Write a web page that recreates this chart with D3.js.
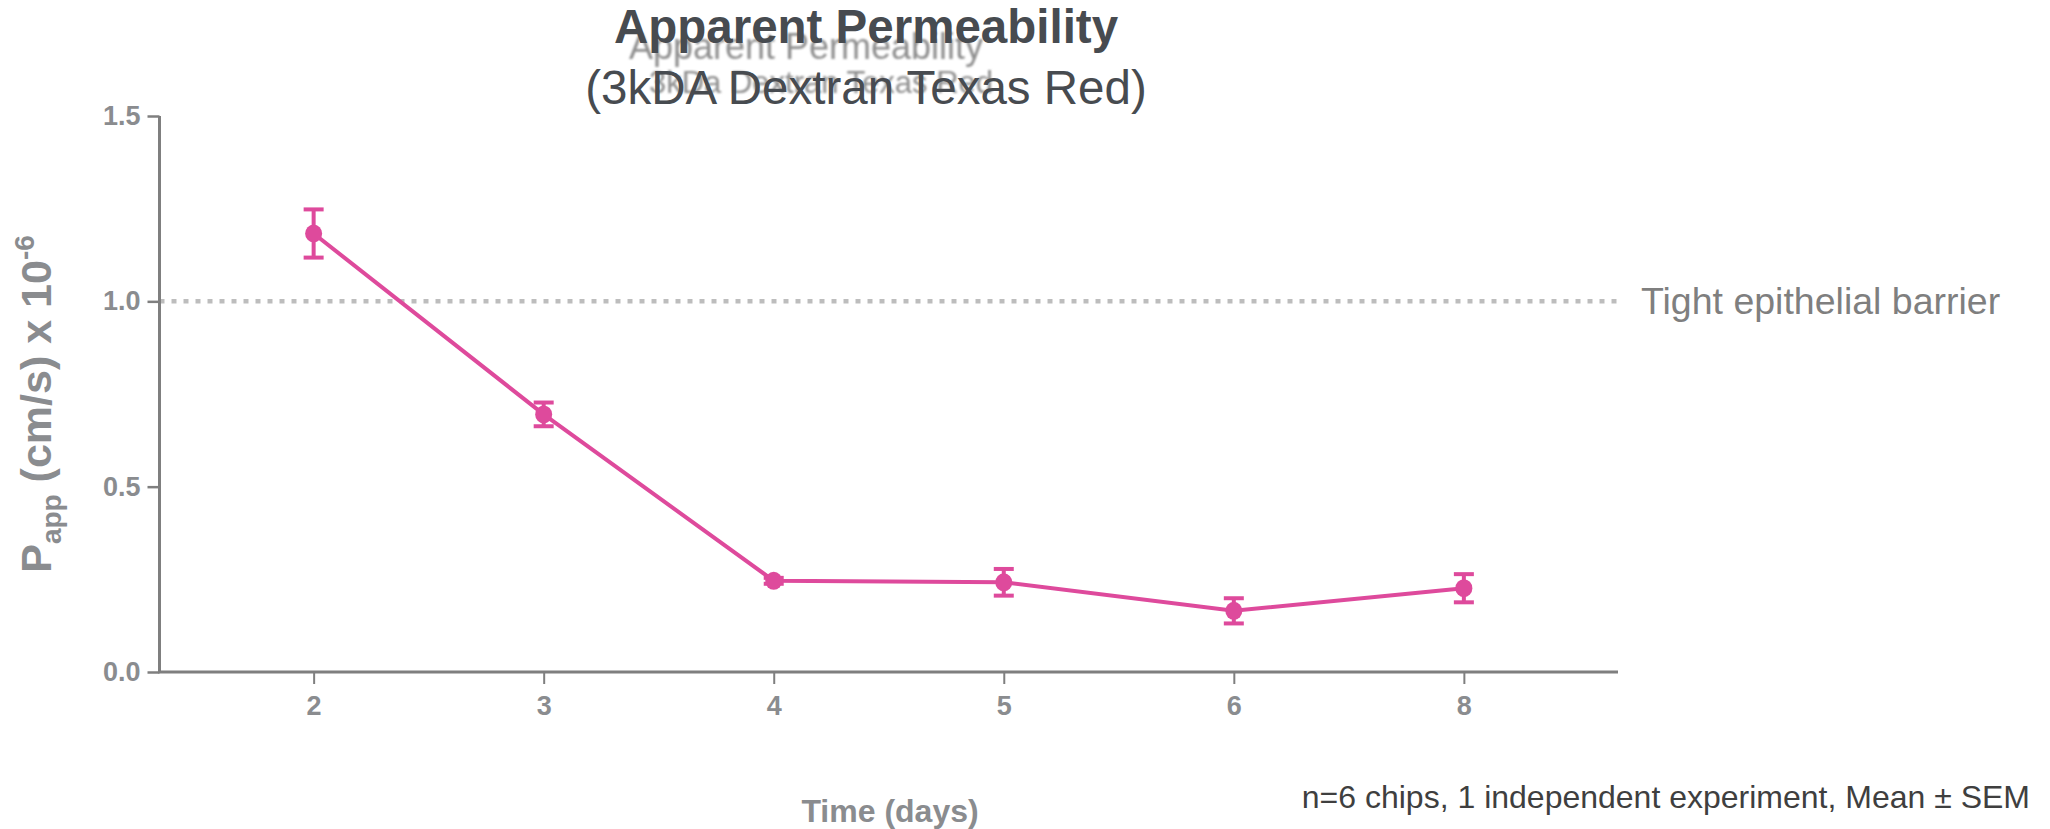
<!DOCTYPE html>
<html>
<head>
<meta charset="utf-8">
<script src="https://cdn.jsdelivr.net/npm/d3@7"></script>
<style>
  html, body { margin: 0; padding: 0; background: #fff; }
  svg { display: block; font-family: "Liberation Sans", Arial, sans-serif; }
</style>
</head>
<body>
<svg id="chart" width="2050" height="829"></svg>
<script>
// ---- data ----
const days = ["2", "3", "4", "5", "6", "8"];
const papp = [1.183, 0.695, 0.246, 0.242, 0.165, 0.226];
const sem  = [0.065, 0.032, 0.008, 0.036, 0.034, 0.038];
const yTicks = [0.0, 0.5, 1.0, 1.5];
const barrierValue = 1.0;

(function draw() {
const svg = d3.select("#chart");
const L = 159.5, R = 1618, T = 116, B = 672;

const x = d3.scalePoint().domain(days).range([L, R]).padding(0.67);
const y = d3.scaleLinear().domain([0, 1.5]).range([B, T]);

const axisColor = "#7f7f7f";
const labelColor = "#8a8c8f";
const pink = "#de4a9c";

// titles (ghost duplicate behind)
const defs = svg.append("defs");
defs.append("filter").attr("id", "blur").append("feGaussianBlur").attr("stdDeviation", 1.3);
svg.append("text").attr("x", 806).attr("y", 59).attr("text-anchor", "middle")
  .attr("font-size", 36).attr("fill", "#8f8f8f").attr("filter", "url(#blur)")
  .text("Apparent Permeability");
svg.append("text").attr("x", 821).attr("y", 93).attr("text-anchor", "middle")
  .attr("font-size", 31).attr("fill", "#8f8f8f").attr("filter", "url(#blur)")
  .text("3kDa Dextran Texas Red");
svg.append("text").attr("x", 866).attr("y", 43).attr("text-anchor", "middle")
  .attr("font-size", 47.5).attr("font-weight", "bold").attr("fill", "#474b50")
  .text("Apparent Permeability");
svg.append("text").attr("x", 866).attr("y", 104).attr("text-anchor", "middle")
  .attr("font-size", 47.5).attr("fill", "#474b50")
  .text("(3kDA Dextran Texas Red)");

// barrier line
svg.append("line")
  .attr("x1", L).attr("x2", R)
  .attr("y1", y(barrierValue)).attr("y2", y(barrierValue))
  .attr("stroke", "#bdbdbd").attr("stroke-width", 4.5).attr("stroke-dasharray", "5,7");
svg.append("text").attr("x", 1641).attr("y", y(barrierValue) + 13)
  .attr("font-size", 37.5).attr("fill", "#7f7f7f").text("Tight epithelial barrier");

// axes
const yAxis = d3.axisLeft(y).tickValues(yTicks).tickFormat(d3.format(".1f")).tickSize(12).tickPadding(7);
const gy = svg.append("g").attr("transform", `translate(${L},0)`).call(yAxis);
gy.select(".domain").attr("stroke", axisColor).attr("stroke-width", 3).attr("d", `M0,${T}V${B}`);
gy.selectAll(".tick line").attr("stroke", axisColor).attr("stroke-width", 2.5);
gy.selectAll(".tick text").attr("fill", labelColor).attr("font-size", 27)
  .attr("font-weight", "bold").attr("font-family", "Liberation Sans, Arial, sans-serif");

const xAxis = d3.axisBottom(x).tickSize(12).tickPadding(12);
const gx = svg.append("g").attr("transform", `translate(0,${B})`).call(xAxis);
gx.select(".domain").attr("stroke", axisColor).attr("stroke-width", 3).attr("d", `M${L - 1.5},0H${R}`);
gx.selectAll(".tick line").attr("stroke", axisColor).attr("stroke-width", 2);
gx.selectAll(".tick text").attr("fill", labelColor).attr("font-size", 27)
  .attr("font-weight", "bold").attr("font-family", "Liberation Sans, Arial, sans-serif");

// axis titles
const yl = svg.append("text").attr("transform", `translate(51,${(T + B) / 2 + 10}) rotate(-90)`)
  .attr("text-anchor", "middle").attr("font-size", 43).attr("font-weight", "bold").attr("fill", labelColor);
yl.append("tspan").text("P");
yl.append("tspan").attr("font-size", 28).attr("dy", 10).text("app");
yl.append("tspan").attr("dy", -10).text(" (cm/s) x 10");
yl.append("tspan").attr("font-size", 28).attr("dy", -17).text("-6");

svg.append("text").attr("x", 890).attr("y", 822).attr("text-anchor", "middle")
  .attr("font-size", 32).attr("font-weight", "bold").attr("fill", labelColor).text("Time (days)");

svg.append("text").attr("x", 2030).attr("y", 808).attr("text-anchor", "end")
  .attr("font-size", 32).attr("fill", "#3f3f3f").text("n=6 chips, 1 independent experiment, Mean ± SEM");

// data series
const data = days.map((d, i) => ({ d, v: papp[i], e: sem[i] }));
svg.append("path").datum(data)
  .attr("fill", "none").attr("stroke", pink).attr("stroke-width", 4)
  .attr("d", d3.line().x(p => x(p.d)).y(p => y(p.v)));

const eb = svg.append("g").attr("stroke", pink).attr("stroke-width", 4);
data.forEach(p => {
  const cx = x(p.d);
  eb.append("line").attr("x1", cx).attr("x2", cx).attr("y1", y(p.v + p.e)).attr("y2", y(p.v - p.e));
  eb.append("line").attr("x1", cx - 10).attr("x2", cx + 10).attr("y1", y(p.v + p.e)).attr("y2", y(p.v + p.e));
  eb.append("line").attr("x1", cx - 10).attr("x2", cx + 10).attr("y1", y(p.v - p.e)).attr("y2", y(p.v - p.e));
});

svg.append("g").selectAll("ellipse").data(data).join("ellipse")
  .attr("cx", p => x(p.d)).attr("cy", p => y(p.v))
  .attr("rx", 8.5).attr("ry", 9).attr("fill", pink);
})();
</script>
</body>
</html>
